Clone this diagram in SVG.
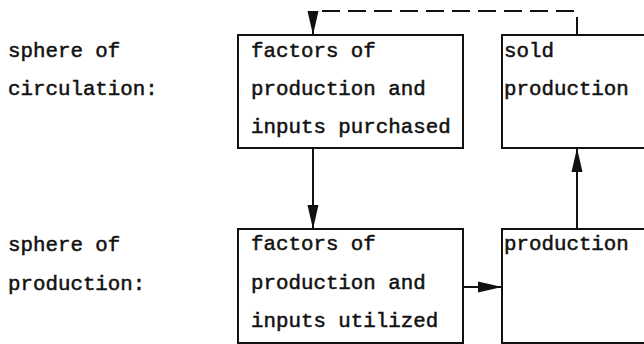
<svg xmlns="http://www.w3.org/2000/svg" width="644" height="344" viewBox="0 0 644 344">
  <style>
    .box { fill: #ffffff; stroke: #111111; stroke-width: 2; }
    .t { font-family: "Liberation Mono", "Courier New", monospace; font-size: 20.8px; fill: #111111; stroke: #111111; stroke-width: 0.5; }
    .conn { fill: none; stroke: #111111; stroke-width: 2; }
    .dash { stroke-dasharray: 18 8; }
  </style>
  <defs>
    <marker id="ah" markerUnits="userSpaceOnUse" markerWidth="24" markerHeight="12" refX="24" refY="6" orient="auto">
      <path d="M0,0.5 L24,6 L0,11.5 z" fill="#111111"/>
    </marker>
  </defs>
  <rect width="644" height="344" fill="#ffffff"/>

  <g id="label-circulation">
    <text class="t" x="8" y="57">sphere of</text>
    <text class="t" x="8" y="95">circulation:</text>
  </g>
  <g id="label-production">
    <text class="t" x="8" y="251">sphere of</text>
    <text class="t" x="8" y="290">production:</text>
  </g>

  <g id="inputs-purchased">
    <rect class="box" x="238" y="35" width="225" height="113"/>
    <text class="t" x="251" y="57">factors of</text>
    <text class="t" x="251" y="95">production and</text>
    <text class="t" x="251" y="133">inputs purchased</text>
  </g>
  <g id="sold-production">
    <rect class="box" x="502" y="35" width="146" height="113"/>
    <text class="t" x="504" y="57">sold</text>
    <text class="t" x="504" y="95">production</text>
  </g>
  <g id="inputs-utilized">
    <rect class="box" x="238" y="229" width="225" height="114"/>
    <text class="t" x="251" y="250">factors of</text>
    <text class="t" x="251" y="289">production and</text>
    <text class="t" x="251" y="327">inputs utilized</text>
  </g>
  <g id="production">
    <rect class="box" x="502" y="229" width="146" height="114"/>
    <text class="t" x="504" y="250">production</text>
  </g>

  <g id="connectors">
    <path class="conn" d="M313,148 V229" marker-end="url(#ah)"/>
    <path class="conn" d="M463,287 H502" marker-end="url(#ah)"/>
    <path class="conn" d="M577,229 V148" marker-end="url(#ah)"/>
    <path class="conn dash" d="M577,35 V13 Q577,11 574,11 H316 Q313,11 313,14" />
    <path class="conn" d="M313,13 V35" marker-end="url(#ah)"/>
  </g>
</svg>
